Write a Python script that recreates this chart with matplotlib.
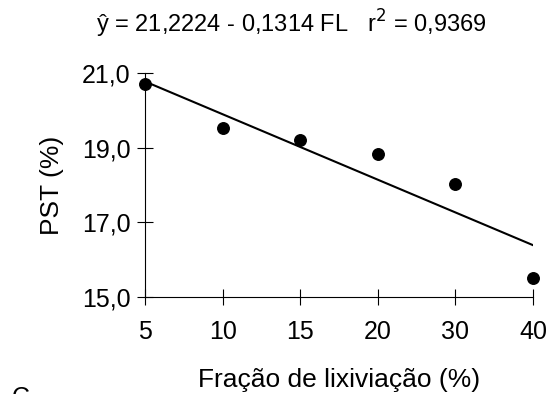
import matplotlib
matplotlib.use("Agg")
import matplotlib.pyplot as plt
import numpy as np

plt.rcParams['font.family'] = ['Liberation Sans', 'DejaVu Sans']

# leaching fraction treatments (plotted at equal spacing)
fl_labels = ['5', '10', '15', '20', '30', '40']
pst = [20.71, 19.52, 19.21, 18.84, 18.03, 15.51]
# regression line as drawn, at first and last treatment
fit_y = [20.78, 16.39]
yticks = [15.0, 17.0, 19.0, 21.0]

fig = plt.figure(figsize=(5.49, 3.94), dpi=100)
ax = fig.add_axes([0.2641, 0.2462, 0.7068, 0.5678])

xpos = np.arange(len(fl_labels))
ax.plot([xpos[0], xpos[-1]], fit_y, color='black', lw=1.5, zorder=2)
ax.plot(xpos, pst, 'o', color='black', ms=8.3, zorder=3, clip_on=False)

ax.set_xlim(xpos[0], xpos[-1])
ax.set_ylim(15, 21)
ax.set_xticks(xpos)
ax.set_xticklabels(fl_labels)
ax.set_yticks(yticks)
ax.set_yticklabels([('%.1f' % v).replace('.', ',') for v in yticks])

for s in ['top', 'right']:
    ax.spines[s].set_visible(False)
for s in ['left', 'bottom']:
    ax.spines[s].set_linewidth(0.8)

ax.tick_params(axis='both', direction='inout', length=11, width=0.8, labelsize=18)
ax.tick_params(axis='x', pad=11)
ax.tick_params(axis='y', pad=5)

ax.set_xlabel('Fração de lixiviação (%)', fontsize=19, labelpad=17.5)
ax.set_ylabel('PST (%)', fontsize=19, labelpad=13)

fig.text(0.53, 0.94, r'ŷ = 21,2224 - 0,1314 FL   r$^2$ = 0,9369', fontsize=17,
         ha='center', va='center')
# panel letter, cut by the lower edge as in the source figure
fig.text(0.022, -0.01, 'C', fontsize=18, ha='left', va='center')

fig.savefig('out.png', dpi=100)
